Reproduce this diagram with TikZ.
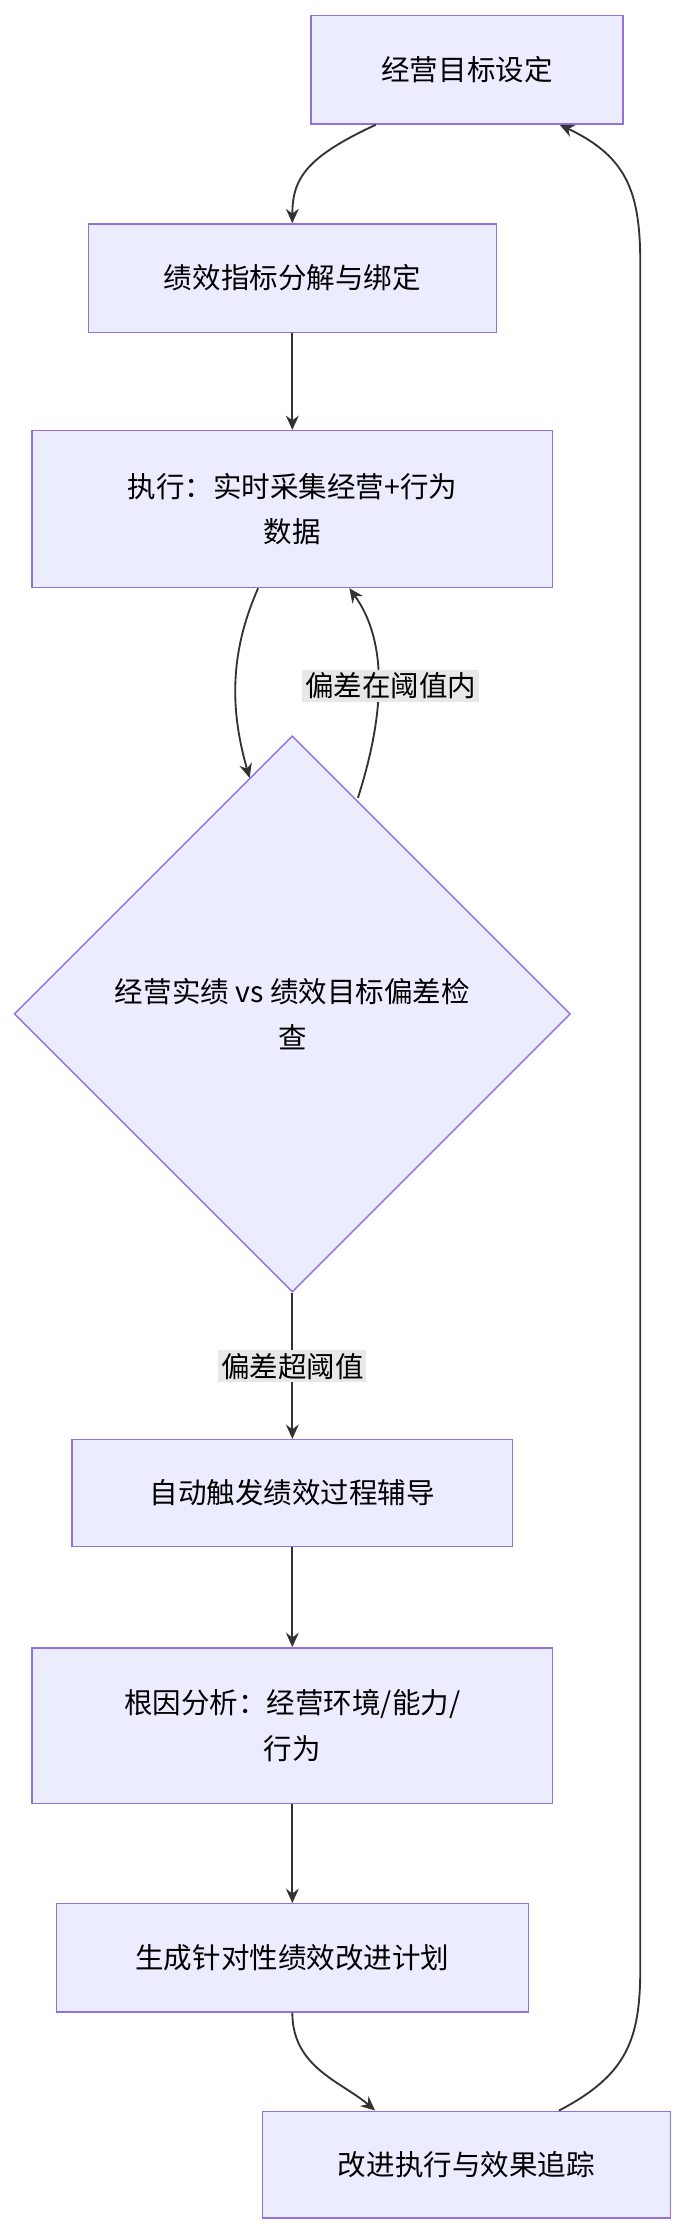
\documentclass[tikz,border=0pt]{standalone}
\usepackage{fontspec}
\setmainfont{Noto Sans CJK SC}
\usetikzlibrary{shapes.geometric,arrows.meta}
\begin{document}
\begin{tikzpicture}[x=1pt,y=-1pt,
  box/.style={draw=violet!70!blue!60!white, draw={rgb,255:red,147;green,112;blue,219}, fill={rgb,255:red,236;green,236;blue,255}, line width=1pt, inner sep=0pt, align=center, font=\fontsize{20}{32}\selectfont},
  arr/.style={draw={rgb,255:red,51;green,51;blue,51}, line width=1.3pt, -{Stealth[length=10pt,width=9pt]}},
  lbl/.style={fill={rgb,255:red,232;green,232;blue,232}, inner sep=2pt, font=\fontsize{20}{24}\selectfont}]
\useasboundingbox (0,0) rectangle (482,1568);
\node[box, minimum width=219pt, minimum height=76pt] (n1) at (327.5,49) {经营目标设定};
\node[box, minimum width=286pt, minimum height=76pt] (n2) at (205,195) {绩效指标分解与绑定};
\node[box, minimum width=365pt, minimum height=110pt] (n3) at (205,357) {执行：实时采集经营+行为\\数据};
\node[box, diamond, minimum width=390pt, minimum height=390pt, aspect=1] (n4) at (205,711) {经营实绩 vs 绩效目标偏差检\\查};
\node[box, minimum width=309pt, minimum height=75pt] (n5) at (205,1047) {自动触发绩效过程辅导};
\node[box, minimum width=365pt, minimum height=109pt] (n6) at (205,1210) {根因分析：经营环境/能力/\\行为};
\node[box, minimum width=331pt, minimum height=76pt] (n7) at (205,1373) {生成针对性绩效改进计划};
\node[box, minimum width=286pt, minimum height=75pt] (n8) at (327,1518) {改进执行与效果追踪};
\draw[arr] ([xshift=-64pt]n1.south) .. controls (215,110) and (205,125) .. (n2.north);
\draw[arr] (n2.south) -- (n3.north);
\draw[arr] ([xshift=-24pt]n3.south) .. controls (160,460) and (162,500) .. ([xshift=-30pt,yshift=-30pt]n4.north);
\draw[arr] ([xshift=46pt,yshift=-44pt]n4.north) .. controls (270,500) and (272,450) .. ([xshift=40pt]n3.south);
\node[lbl] (l1) at (274,481) {偏差在阈值内};
\draw[arr] (n4.south) -- (n5.north);
\node[lbl] (l2) at (205,958) {偏差超阈值};
\draw[arr] (n5.south) -- (n6.north);
\draw[arr] (n6.south) -- (n7.north);
\draw[arr] (n7.south) .. controls (205,1450) and (240,1460) .. ([xshift=-64pt]n8.north);
\draw[arr] ([xshift=65pt]n8.north) .. controls (440,1455) and (449,1430) .. (449,1380) -- (449,185) .. controls (449,135) and (440,110) .. ([xshift=65pt]n1.south);
\end{tikzpicture}
\end{document}
